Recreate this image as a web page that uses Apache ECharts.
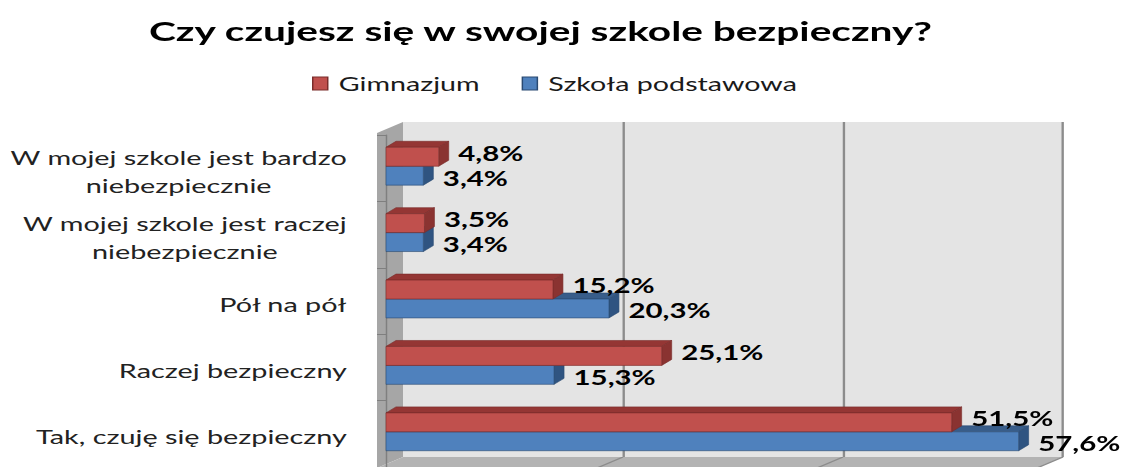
<!DOCTYPE html>
<html><head><meta charset="utf-8">
<script src="https://cdn.jsdelivr.net/npm/echarts@6/dist/echarts.min.js"></script>
<style>
html,body{margin:0;padding:0;background:#fff;overflow:hidden;width:1123px;height:467px}
#wrap{position:absolute;left:0;top:0;width:1123px;height:467px;overflow:hidden}
#chart{position:absolute;left:0;top:0;height:467px;transform-origin:0 0}
</style></head><body>
<div id="wrap"><div id="chart"></div></div>
<script>
// ---- data ----
const titleText = 'Czy czujesz się w swojej szkole bezpieczny?';
const categories = ['W mojej szkole jest bardzo\nniebezpiecznie', 'W mojej szkole jest raczej\nniebezpiecznie', 'Pół na pół', 'Raczej bezpieczny', 'Tak, czuję się bezpieczny'];
const seriesNames = ['Gimnazjum', 'Szkoła podstawowa'];
const gimnazjum = [4.8, 3.5, 15.2, 25.1, 51.5];
const podstawowa = [3.4, 3.4, 20.3, 15.3, 57.6];
const valueMin = 0, valueMax = 60, valueInterval = 20;

// ---- the original picture is stretched horizontally; reproduce with scaleX ----
const FONT = 'Lato';
const S = 1.478;
const catSize = 19.5, titleSize = 27.5, legendSize = 19.4, valSize = 19.9;
const ctx = document.createElement('canvas').getContext('2d');
function mw(text, font) { ctx.font = font; return ctx.measureText(text).width; }
const X = v => v / S;
const W = 1123 / S;
const el = document.getElementById('chart');
el.style.width = W + 'px';
el.style.transform = 'scaleX(' + S + ')';
const chart = echarts.init(el, null, {renderer: 'svg', width: W, height: 467});

// layout (reference px)
const back = {l: 403, r: 1063, t: 122, b: 457};
const front = {l: 386, r: 1045, t: 135, b: 468};
const wallX = 377;

const palettes = [
  {front: '#c0504d', top: '#943634', side: '#8a3331', edge: '#7a2c2a'},
  {front: '#4f81bd', top: '#385d8a', side: '#2f5481', edge: '#2a4a72'}
];
const fmt = v => v.toFixed(1).replace('.', ',') + '%';

function makeRender(slot, pal, labelDy) {
  return function (params, api) {
    const v = api.value(0), c = api.value(1);
    const start = api.coord([0, c]);
    const end = api.coord([v, c]);
    const band = api.size([0, 1])[1];
    const h = band * 0.285;
    const top = start[1] - band * 0.315 + slot * h;
    const x0 = start[0], x1 = end[0];
    const dx = X(10), dy = -6;
    return {type: 'group', children: [
      {type: 'polygon', shape: {points: [[x0, top], [x0 + dx, top + dy], [x1 + dx, top + dy], [x1, top]]}, style: {fill: pal.top, stroke: pal.edge, lineWidth: 0.5}},
      {type: 'polygon', shape: {points: [[x1, top], [x1 + dx, top + dy], [x1 + dx, top + h + dy], [x1, top + h]]}, style: {fill: pal.side, stroke: pal.edge, lineWidth: 0.5}},
      {type: 'rect', shape: {x: x0, y: top, width: x1 - x0, height: h}, style: {fill: pal.front, stroke: pal.edge, lineWidth: 0.5}},
      {type: 'text', x: x1 + X(19.5), y: top + h / 2 + labelDy, style: {text: fmt(v), fontFamily: FONT, fontWeight: 'bold', fontSize: valSize, fill: '#000', align: 'left', verticalAlign: 'middle'}}
    ]};
  };
}

const catFormatter = v => v.split('\n').map(l => '{c|' + l + '}').join('\n');

const option = {
  animation: false,
  backgroundColor: '#fff',
  title: {
    text: titleText,
    left: X(542) - mw(titleText, 'bold ' + titleSize + 'px ' + FONT) / 2 - 5,
    top: 11,
    textStyle: {fontFamily: FONT, fontWeight: 'bold', fontSize: titleSize, color: '#000'}
  },
  legend: {
    data: [
      {name: seriesNames[0], itemStyle: {color: palettes[0].front, borderColor: palettes[0].edge, borderWidth: 1}},
      {name: seriesNames[1], itemStyle: {color: palettes[1].front, borderColor: palettes[1].edge, borderWidth: 1}}
    ],
    icon: 'rect', left: X(312) - 5, top: 69,
    itemWidth: X(15), itemHeight: 13, itemGap: X(42),
    textStyle: {fontFamily: FONT, fontSize: legendSize, color: '#1a1a1a', padding: [0, 0, 0, X(11) - 5]}
  },
  grid: [
    {left: X(back.l), top: back.t, width: X(back.r - back.l), height: back.b - back.t, show: true, backgroundColor: '#e4e4e4', borderWidth: 0, containLabel: false},
    {left: X(front.l), top: front.t, width: X(front.r - front.l), height: front.b - front.t, show: false, containLabel: false}
  ],
  xAxis: [
    {type: 'value', gridIndex: 0, min: valueMin, max: valueMax, interval: valueInterval,
     axisLine: {show: false}, axisTick: {show: false}, axisLabel: {show: false},
     splitLine: {show: true, showMinLine: false, lineStyle: {color: '#8c8c8c', width: 1.6}}},
    {type: 'value', gridIndex: 1, min: valueMin, max: valueMax, interval: valueInterval, show: false}
  ],
  yAxis: [
    {type: 'category', gridIndex: 0, data: categories, show: false},
    {type: 'category', gridIndex: 1, data: categories, inverse: true, offset: X(front.l - wallX),
     axisLine: {show: true, lineStyle: {color: '#7f7f7f', width: 1}},
     axisTick: {show: true, length: X(9), lineStyle: {color: '#7f7f7f', width: 1}},
     axisLabel: {margin: X(30), formatter: catFormatter, padding: [6, 0, 0, 0],
       rich: {c: {align: 'center', fontFamily: FONT, fontSize: catSize, lineHeight: 28, color: '#222'}}},
     splitLine: {show: false}}
  ],
  series: [
    {type: 'custom', name: seriesNames[1], xAxisIndex: 1, yAxisIndex: 1, z: 3,
     itemStyle: {color: palettes[1].front}, encode: {x: 0, y: 1},
     data: podstawowa.map((v, i) => [v, i]), renderItem: makeRender(1, palettes[1], 2)},
    {type: 'custom', name: seriesNames[0], xAxisIndex: 1, yAxisIndex: 1, z: 4,
     itemStyle: {color: palettes[0].front}, encode: {x: 0, y: 1},
     data: gimnazjum.map((v, i) => [v, i]), renderItem: makeRender(0, palettes[0], -4)}
  ]
};
chart.setOption(option);

// walls and floor derived from the grids/axes
const gl = [];
const ticks = [];
for (let v = valueMin + valueInterval; v <= valueMax; v += valueInterval) ticks.push(v);
const floorDx = X(back.l - wallX), floorDy = front.b - back.b;
ticks.forEach(v => {
  const xb = chart.convertToPixel({xAxisIndex: 0}, v);
  gl.push({type: 'line', z: -1, shape: {x1: xb, y1: back.b, x2: xb - floorDx, y2: back.b + floorDy}, style: {stroke: '#8c8c8c', lineWidth: 1.2}});
});
chart.setOption({graphic: [
  {type: 'polygon', z: -2, shape: {points: [[X(wallX), front.t - 2], [X(back.l), back.t], [X(back.l), back.b], [X(wallX), front.b]]}, style: {fill: '#a6a6a6'}},
  {type: 'polygon', z: -2, shape: {points: [[X(wallX), front.b], [X(back.l), back.b], [X(back.r), back.b], [X(back.r) - floorDx, front.b]]}, style: {fill: '#b3b3b3'}},
  ...gl
]});
</script>
</body></html>
